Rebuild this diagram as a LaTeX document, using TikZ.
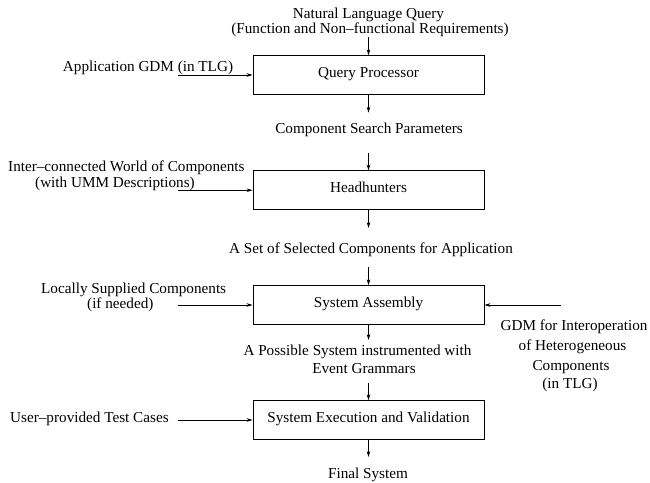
\documentclass[tikz,border=0pt]{standalone}
\usepackage{fontspec}
\setmainfont{Liberation Serif}
\usetikzlibrary{arrows.meta}
\begin{document}
\begin{tikzpicture}[x=1pt,y=-1pt,
  every node/.style={font=\fontsize{15.2}{16}\selectfont, inner sep=0pt},
  proc/.style={draw, line width=0.9pt, minimum width=231pt, minimum height=38.6pt,
    text height=4.5pt, text depth=0pt},
  lbl/.style={anchor=base},
  lblw/.style={anchor=base west},
  arr/.style={line width=0.7pt, -{Stealth[length=6pt,width=3.6pt]}}]
\useasboundingbox (0,0) rectangle (650,482);
% boxes
\node[proc] (qp) at (368.5,75) {Query Processor};
\node[proc] (hh) at (368.5,190.2) {Headhunters};
\node[proc] (sa) at (368.5,305) {System Assembly};
\node[proc] (sev) at (368.5,420) {System Execution and Validation};
% main chain
\node[lbl] (nlq1) at (368.5,18) {Natural Language Query};
\node[lbl] (nlq2) at (370,33) {(Function and Non–functional Requirements)};
\coordinate (qin) at (368.5,37);
\draw[arr] (qin) -- (qp.north);
\coordinate (qout) at (368.5,112.7);
\draw[arr] (qp.south) -- (qout);
\node[lbl] (csp) at (369,133) {Component Search Parameters};
\coordinate (hin) at (368.5,153);
\draw[arr] (hin) -- (hh.north);
\coordinate (hout) at (368.5,228);
\draw[arr] (hh.south) -- (hout);
\node[lbl] (ssc) at (371,253) {A Set of Selected Components for Application};
\coordinate (sin) at (368.5,267);
\draw[arr] (sin) -- (sa.north);
\coordinate (sout) at (368.5,340);
\draw[arr] (sa.south) -- (sout);
\node[lbl] (ps1) at (357.5,355) {A Possible System instrumented with};
\node[lbl] (ps2) at (364,373) {Event Grammars};
\coordinate (ein) at (368.5,383);
\draw[arr] (ein) -- (sev.north);
\coordinate (eout) at (368.5,457);
\draw[arr] (sev.south) -- (eout);
\node[lbl] (fs) at (368,478) {Final System};
% left inputs
\node[lbl] (ag) at (148,71) {Application GDM (in TLG)};
\coordinate (agc) at (178,75);
\draw[arr] (agc) -- (qp.west);
\node[lblw] (iw1) at (8,171) {Inter–connected World of Components};
\node[lblw] (iw2) at (35,187) {(with UMM Descriptions)};
\coordinate (iwc) at (178,190.2);
\draw[arr] (iwc) -- (hh.west);
\node[lblw] (ls1) at (41,293) {Locally Supplied Components};
\node[lblw] (ls2) at (87,308) {(if needed)};
\coordinate (lsc) at (178,305);
\draw[arr] (lsc) -- (sa.west);
\node[lblw] (ut) at (10,422) {User–provided Test Cases};
\coordinate (utc) at (178,420);
\draw[arr] (utc) -- (sev.west);
% right input
\coordinate (gc) at (561,305);
\draw[arr] (gc) -- (sa.east);
\node[lbl] (g1) at (574,330) {GDM for Interoperation};
\node[lbl] (g2) at (572.5,350) {of Heterogeneous};
\node[lbl] (g3) at (571,370) {Components};
\node[lbl] (g4) at (570,388) {(in TLG)};
\end{tikzpicture}
\end{document}
